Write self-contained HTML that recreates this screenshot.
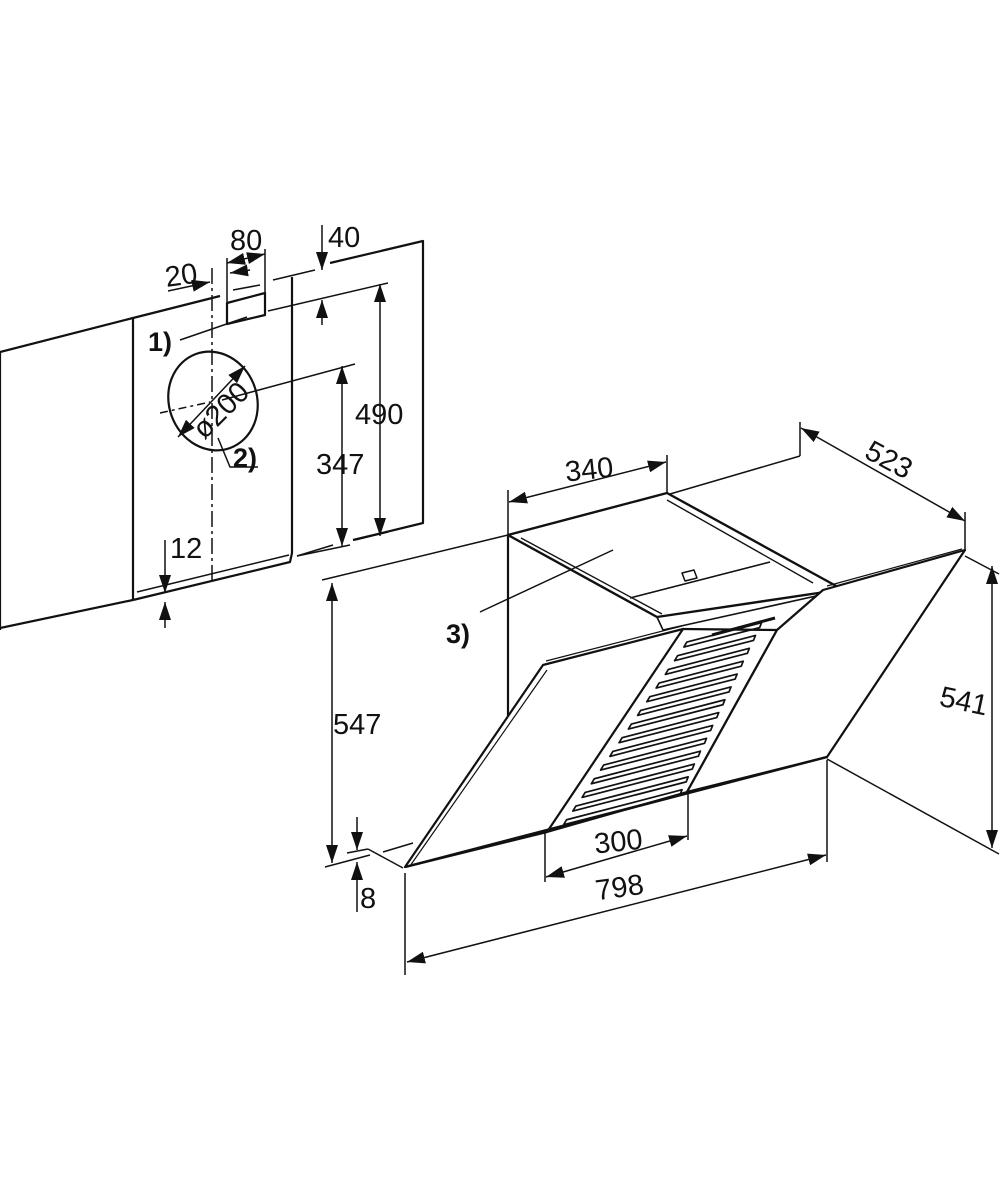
<!DOCTYPE html>
<html><head><meta charset="utf-8"><style>
html,body{margin:0;padding:0;background:#fff}
svg{display:block}
text{font-family:"Liberation Sans",sans-serif;font-size:29px;fill:#111}
.b{font-weight:bold;font-size:27px}
</style></head><body>
<svg width="1000" height="1200" viewBox="0 0 1000 1200" xmlns="http://www.w3.org/2000/svg">
<defs>
<marker id="a" viewBox="0 0 18 12" refX="18" refY="6" markerWidth="18" markerHeight="12" markerUnits="userSpaceOnUse" orient="auto-start-reverse">
<path d="M0,0 L18,6 L0,12 z" fill="#111"/></marker>
</defs>
<g fill="none" stroke="#111" stroke-width="2.2" stroke-linejoin="round">
<polyline points="0,352 133,318 220,296"/>
<line x1="0" y1="628" x2="133" y2="600"/>
<line x1="0" y1="352" x2="0" y2="630"/>
<line x1="133" y1="318" x2="133" y2="600"/>
<polyline points="133,600 290,562 292,553 292,277"/>
<line x1="137" y1="592" x2="289" y2="555" stroke-width="1.5"/>
<polyline points="330,263 423,241 423,523 353,540"/>
<line x1="333" y1="545" x2="297" y2="556" stroke-width="1.5"/>
<polygon points="227,303 265,293 265,315 227,324"/>
<ellipse cx="213" cy="401" rx="44" ry="50" transform="rotate(-20 213 401)"/>
</g>
<g fill="none" stroke="#111" stroke-width="1.5">
<line x1="212" y1="268" x2="212" y2="585" stroke-dasharray="16,4,3,4"/>
<line x1="160" y1="413" x2="210" y2="402" stroke-dasharray="8,4,3,4"/>
<line x1="233" y1="290" x2="260" y2="285"/>
<line x1="273" y1="280" x2="315" y2="270"/>
<line x1="168" y1="291" x2="210" y2="282" marker-end="url(#a)"/>
<line x1="250" y1="270" x2="230" y2="273" marker-end="url(#a)"/>
<line x1="227" y1="258" x2="227" y2="324"/>
<line x1="265" y1="249" x2="265" y2="300"/>
<line x1="227" y1="263" x2="265" y2="254" marker-start="url(#a)" marker-end="url(#a)"/>
<line x1="322" y1="225" x2="322" y2="270" marker-end="url(#a)"/>
<line x1="322" y1="325" x2="322" y2="300" marker-end="url(#a)"/>
<line x1="268" y1="311" x2="388" y2="283"/>
<line x1="180" y1="340" x2="247" y2="317"/>
<polyline points="218,438 230,467 258,467"/>
<line x1="178" y1="437" x2="245" y2="366" marker-start="url(#a)" marker-end="url(#a)"/>
<line x1="222" y1="400" x2="355" y2="364"/>
<line x1="342" y1="366" x2="342" y2="546" marker-start="url(#a)" marker-end="url(#a)"/>
<line x1="297" y1="556" x2="350" y2="545"/>
<line x1="380" y1="284" x2="380" y2="536" marker-start="url(#a)" marker-end="url(#a)"/>
<line x1="355" y1="540" x2="388" y2="532"/>
<line x1="165" y1="540" x2="165" y2="593" marker-end="url(#a)"/>
<line x1="165" y1="628" x2="165" y2="602" marker-end="url(#a)"/>

<line x1="508" y1="490" x2="508" y2="535"/>
<line x1="667" y1="455" x2="667" y2="493"/>
<line x1="509" y1="502" x2="666" y2="462" marker-start="url(#a)" marker-end="url(#a)"/>
<line x1="670" y1="494" x2="800" y2="456"/>
<line x1="800" y1="422" x2="800" y2="456"/>
<line x1="801" y1="428" x2="965" y2="521" marker-start="url(#a)" marker-end="url(#a)"/>
<line x1="965" y1="512" x2="965" y2="550"/>
<line x1="322" y1="580" x2="508" y2="535"/>
<line x1="332" y1="583" x2="332" y2="863" marker-start="url(#a)" marker-end="url(#a)"/>
<line x1="325" y1="867" x2="370" y2="855"/>
<line x1="347" y1="853" x2="368" y2="849"/>
<line x1="368" y1="849" x2="403" y2="868"/>
<line x1="383" y1="852" x2="413" y2="843"/>
<line x1="430" y1="839" x2="508" y2="818"/>
<line x1="357" y1="817" x2="357" y2="850" marker-end="url(#a)"/>
<line x1="357" y1="912" x2="357" y2="862" marker-end="url(#a)"/>
<line x1="965" y1="556" x2="999" y2="574"/>
<line x1="992" y1="566" x2="992" y2="848" marker-start="url(#a)" marker-end="url(#a)"/>
<line x1="827" y1="759" x2="999" y2="854"/>
<line x1="545" y1="832" x2="545" y2="882"/>
<line x1="688" y1="793" x2="688" y2="840"/>
<line x1="546" y1="877" x2="687" y2="836" marker-start="url(#a)" marker-end="url(#a)"/>
<line x1="405" y1="873" x2="405" y2="975"/>
<line x1="827" y1="760" x2="827" y2="862"/>
<line x1="407" y1="962" x2="826" y2="855" marker-start="url(#a)" marker-end="url(#a)"/>
<line x1="480" y1="612" x2="613" y2="550"/>
</g>

<g fill="none" stroke="#111" stroke-width="2.2" stroke-linejoin="round">
<polygon points="508,535 667,493 838,587 825,592 657,617" stroke-width="2.4"/>
<line x1="521" y1="538" x2="662" y2="614" stroke-width="1.4"/>
<line x1="667" y1="500" x2="813" y2="583" stroke-width="1.4"/>
<line x1="630" y1="598" x2="770" y2="562" stroke-width="1.6"/>
<polygon points="682,573 694,570 697,578 685,581" stroke-width="1.5"/>
<line x1="508" y1="535" x2="508" y2="813"/>
<polyline points="508,813 530,830" stroke-width="1.5"/>
<polyline points="657,617 663,630 825,594" stroke-width="1.6"/>
<line x1="712" y1="635" x2="775" y2="618" stroke-width="3"/>
<polygon points="543,665 683,629 547,832 405,867" fill="#fff"/>
<line x1="547" y1="670" x2="410" y2="866" stroke-width="1.2"/>
<line x1="546" y1="661" x2="682" y2="626" stroke-width="1.2"/>
<polyline points="683,629 777,630 687,792 547,832"/>
<line x1="825" y1="592" x2="753" y2="697" stroke-width="1.6"/>
<polygon points="823,590 965,550 827,757 687,792 777,630" fill="#fff"/>
<line x1="827" y1="586" x2="962" y2="549" stroke-width="1.2"/>
<line x1="405" y1="867" x2="827" y2="757" stroke-width="2.4"/>
<g id="slats" stroke-width="1.7"></g>
</g>

<g>
<text x="165" y="285" transform="rotate(-8 180 275)">20</text>
<text x="230" y="250">80</text>
<text x="328" y="247">40</text>
<text class="b" x="148" y="351">1)</text>
<text x="183" y="431" transform="rotate(-45 205 410)">ø200</text>
<text class="b" x="233" y="467">2)</text>
<text x="355" y="424">490</text>
<text x="316" y="474">347</text>
<text x="170" y="558">12</text>
<text x="565" y="479" transform="rotate(-6 590 470)">340</text>
<text x="865" y="471" transform="rotate(28 892 460)">523</text>
<text x="940" y="711" transform="rotate(12 965 700)">541</text>
<text x="333" y="734">547</text>
<text class="b" x="446" y="643">3)</text>
<text x="594" y="851" transform="rotate(-6 620 840)">300</text>
<text x="595" y="897" transform="rotate(-8 620 885)">798</text>
<text x="360" y="908">8</text>
</g>
</svg>
<script>
(function(){
var g=document.getElementById('slats'),s='';
for(var i=0;i<14;i++){
 var t=0.06+i*0.068;
 var lx=683-136*t+12, ly=629+201*t+1;
 var rx=777-90*t-10;
 var ry=ly-0.26*(rx-lx);
 s+='<path d="M'+lx+','+ly+' L'+rx+','+ry+' L'+(rx-2)+','+(ry+5)+' L'+(lx-3)+','+(ly+5)+' Z"/>';
}
g.innerHTML=s;
})();
</script>
</body></html>
